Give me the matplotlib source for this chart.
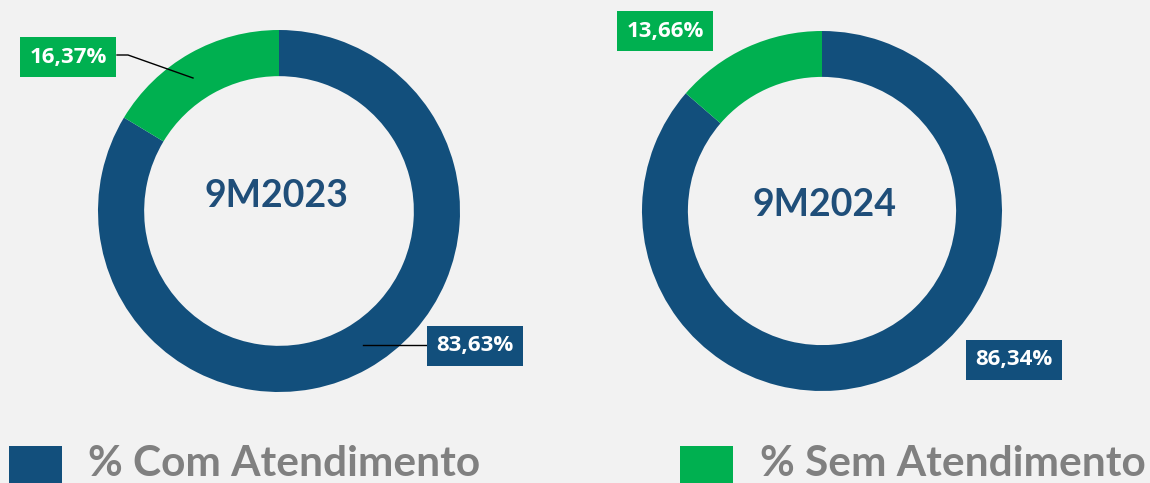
import matplotlib
matplotlib.use('Agg')
import matplotlib.pyplot as plt
from matplotlib.patches import Rectangle
from matplotlib.lines import Line2D

# data
periods = ['9M2023', '9M2024']
com_atendimento = [83.63, 86.34]
sem_atendimento = [16.37, 13.66]
legend_labels = ['% Com Atendimento', '% Sem Atendimento']

blue = '#124F7C'
green = '#00B050'
bg = '#F2F2F2'

W, H = 1150, 483
fig = plt.figure(figsize=(W / 100, H / 100), dpi=100, facecolor=bg)


def fx(x):
    return x / W


def fy(y):
    return 1 - y / H


def fmt(v):
    return f'{v:.2f}'.replace('.', ',') + '%'


# donut geometry in pixels: center x, center y, radius
donuts = [(279, 211, 181), (822, 211, 180)]
title_pos = [(276, 196), (824, 205)]
# label box centers (com, sem)
com_label_pos = [(475, 346), (1014, 360)]
sem_label_pos = [(68, 57), (665, 31)]

for i, (cx, cy, r) in enumerate(donuts):
    ax = fig.add_axes([fx(cx - r), fy(cy + r), 2 * r / W, 2 * r / H])
    ax.set_facecolor('none')
    ax.pie([com_atendimento[i], sem_atendimento[i]], colors=[blue, green],
           startangle=90, counterclock=False, radius=1,
           wedgeprops=dict(width=0.255, linewidth=0))
    ax.set_xlim(-1, 1)
    ax.set_ylim(-1, 1)
    ax.set_aspect('equal')
    ax.axis('off')

    tx, ty = title_pos[i]
    fig.text(fx(tx), fy(ty), periods[i], ha='center', va='center',
             fontsize=27, fontweight='bold', color='#1F4E79', family='Lato')

    lx, ly = com_label_pos[i]
    fig.text(fx(lx), fy(ly), fmt(com_atendimento[i]), ha='center', va='center',
             fontsize=16, fontweight='bold', color='white', family='Open Sans',
             bbox=dict(boxstyle='square,pad=0.43', fc=blue, ec='none'))
    lx, ly = sem_label_pos[i]
    fig.text(fx(lx), fy(ly), fmt(sem_atendimento[i]), ha='center', va='center',
             fontsize=16, fontweight='bold', color='white', family='Open Sans',
             bbox=dict(boxstyle='square,pad=0.43', fc=green, ec='none'))

# leader lines (left donut only)
fig.add_artist(Line2D([fx(117), fx(128), fx(193)], [fy(55), fy(55), fy(78)],
                      color='black', lw=1))
fig.add_artist(Line2D([fx(363), fx(427)], [fy(345), fy(345)],
                      color='black', lw=1))

# legend
legend_x = [(9, 88), (680, 760)]
for (sx, tx), lab, col in zip(legend_x, legend_labels, [blue, green]):
    fig.add_artist(Rectangle((fx(sx), fy(500)), 53 / W, 54 / H,
                             transform=fig.transFigure, fc=col, ec='none'))
    fig.text(fx(tx), fy(483), lab, ha='left', va='bottom', fontsize=30.5,
             fontweight='bold', color='#808080', family='Lato')

fig.savefig('out.png', dpi=100, facecolor=bg)
